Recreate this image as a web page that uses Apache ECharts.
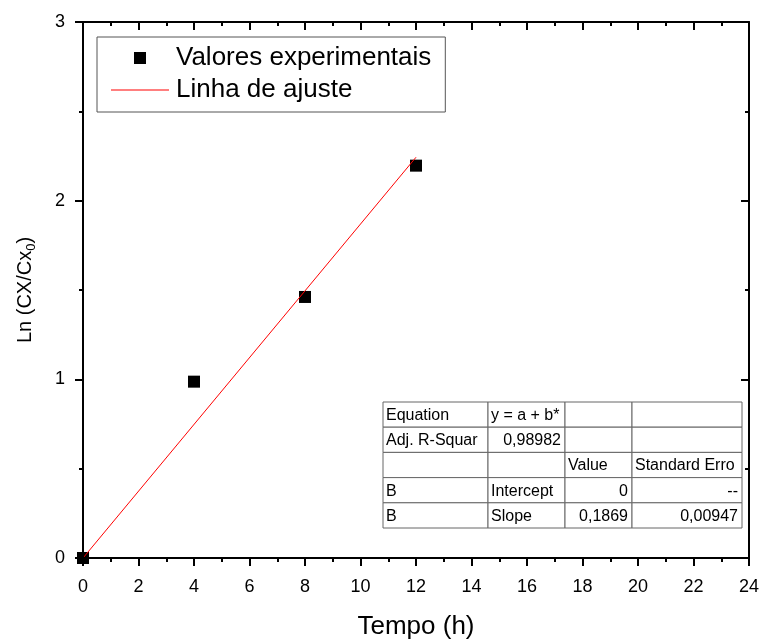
<!DOCTYPE html>
<html>
<head>
<meta charset="utf-8">
<script src="https://cdn.jsdelivr.net/npm/echarts@6/dist/echarts.min.js"></script>
<style>
  html, body { margin: 0; padding: 0; background: #fff; }
  #chart { width: 763px; height: 640px; }
</style>
</head>
<body>
<div id="chart"></div>
<script>
    // valores
    var tempo = [0, 4, 8, 12];
    var lnCx = [0, 0.987, 1.461, 2.196];
    var ajusteX = [0, 12];
    var ajusteY = [0, 2.243];

    // tabela do ajuste linear
    var tabelaColunas = [105, 77, 67, 110];
    var tabelaLinhas = [
        ["Equation", "y = a + b*", "", ""],
        ["Adj. R-Squar", "0,98982", "", ""],
        ["", "", "Value", "Standard Erro"],
        ["B", "Intercept", "0", "--"],
        ["B", "Slope", "0,1869", "0,00947"]
    ];

    var fonte = "'Liberation Sans', Arial, sans-serif";

    var pontos = tempo.map(function (t, i) { return [t, lnCx[i]]; });
    var linha = ajusteX.map(function (t, i) { return [t, ajusteY[i]]; });

    function montaTabela() {
        var filhos = [];
        var alturaLinha = 25.2;
        var x0 = 383, y0 = 402;
        var y = y0;
        tabelaLinhas.forEach(function (linhaTab) {
            var x = x0;
            linhaTab.forEach(function (txt, c) {
                var w = tabelaColunas[c];
                filhos.push({
                    type: "rect",
                    shape: {x: x, y: y, width: w, height: alturaLinha},
                    style: {fill: "#fff", stroke: "#666", lineWidth: 1}
                });
                if (txt) {
                    var direita = /^[0-9,\-]+$/.test(txt);
                    filhos.push({
                        type: "text",
                        x: direita ? x + w - 4 : x + 3,
                        y: y + alturaLinha / 2 + 1,
                        style: {
                            text: txt,
                            fontSize: 16,
                            fontFamily: fonte,
                            fill: "#000",
                            align: direita ? "right" : "left",
                            verticalAlign: "middle",
                            width: w - 5,
                            overflow: "truncate",
                            ellipsis: ""
                        }
                    });
                }
                x += w;
            });
            y += alturaLinha;
        });
        return filhos;
    }

    var eixoX = {
        type: "value",
        min: 0,
        max: 24,
        interval: 2,
        z: 5,
        axisLine: {show: true, onZero: false, lineStyle: {color: "#000", width: 2}},
        axisTick: {show: true, length: 8, lineStyle: {color: "#000", width: 2}},
        minorTick: {show: true, splitNumber: 2, length: 4, lineStyle: {color: "#000", width: 2}},
        splitLine: {show: false}
    };
    var eixoY = {
        type: "value",
        min: 0,
        max: 3,
        interval: 1,
        z: 5,
        axisLine: {show: true, onZero: false, lineStyle: {color: "#000", width: 2}},
        axisTick: {show: true, length: 8, lineStyle: {color: "#000", width: 2}},
        minorTick: {show: true, splitNumber: 2, length: 4, lineStyle: {color: "#000", width: 2}},
        splitLine: {show: false}
    };

    var chart = echarts.init(document.getElementById("chart"));
    chart.setOption({
        backgroundColor: "#fff",
        animation: false,
        textStyle: {fontFamily: fonte},
        grid: {left: 83, right: 14, top: 22, bottom: 82, outerBoundsMode: "none", containLabel: false},
        legend: {
            orient: "vertical",
            left: 97,
            top: 37,
            padding: [8, 14, 9, 14],
            itemGap: 6,
            itemWidth: 58,
            itemHeight: 12,
            borderColor: "#555",
            borderWidth: 1,
            borderRadius: 0,
            textStyle: {fontSize: 26, fontFamily: fonte, color: "#000", lineHeight: 26, padding: [0, 0, 0, 2]},
            data: [
                {name: "Valores experimentais", icon: "path://M0,0H1V1H0Z", itemStyle: {color: "#000", opacity: 1}},
                {name: "Linha de ajuste", icon: "path://M0,0H58V1H0Z", itemStyle: {color: "#ff0000"}}
            ]
        },
        xAxis: [
            Object.assign({}, eixoX, {
                position: "bottom",
                axisLabel: {fontSize: 18, color: "#000", margin: 20, fontFamily: fonte},
                name: "Tempo (h)",
                nameLocation: "middle",
                nameGap: 56,
                nameTextStyle: {fontSize: 26, color: "#000", fontFamily: fonte}
            }),
            Object.assign({}, eixoX, {
                position: "top",
                axisTick: {show: true, inside: true, length: 8, lineStyle: {color: "#000", width: 2}},
                axisLabel: {show: false}
            })
        ],
        yAxis: [
            Object.assign({}, eixoY, {
                position: "left",
                axisLabel: {fontSize: 18, color: "#000", margin: 18, fontFamily: fonte},
                name: "{a|Ln (CX/Cx}{b|0}{a|)}",
                nameLocation: "middle",
                nameGap: 45,
                nameTextStyle: {
                    fontSize: 20,
                    color: "#000",
                    fontFamily: fonte,
                    rich: {
                        a: {fontSize: 20, fontFamily: fonte, color: "#000"},
                        b: {fontSize: 13, fontFamily: fonte, color: "#000", verticalAlign: "bottom", padding: [12, 0, 0, 0]}
                    }
                }
            }),
            Object.assign({}, eixoY, {
                position: "right",
                axisTick: {show: true, inside: true, length: 8, lineStyle: {color: "#000", width: 2}},
                axisLabel: {show: false}
            })
        ],
        series: [
            {
                name: "Valores experimentais",
                type: "scatter",
                symbol: "rect",
                symbolSize: 12,
                itemStyle: {color: "#000", opacity: 1},
                data: pontos
            },
            {
                name: "Linha de ajuste",
                type: "line",
                symbol: "none",
                lineStyle: {color: "#ff0000", width: 1},
                itemStyle: {color: "#ff0000"},
                data: linha
            }
        ],
        graphic: [
            {type: "group", z: 100, children: montaTabela()}
        ]
    });
</script>
</body>
</html>
